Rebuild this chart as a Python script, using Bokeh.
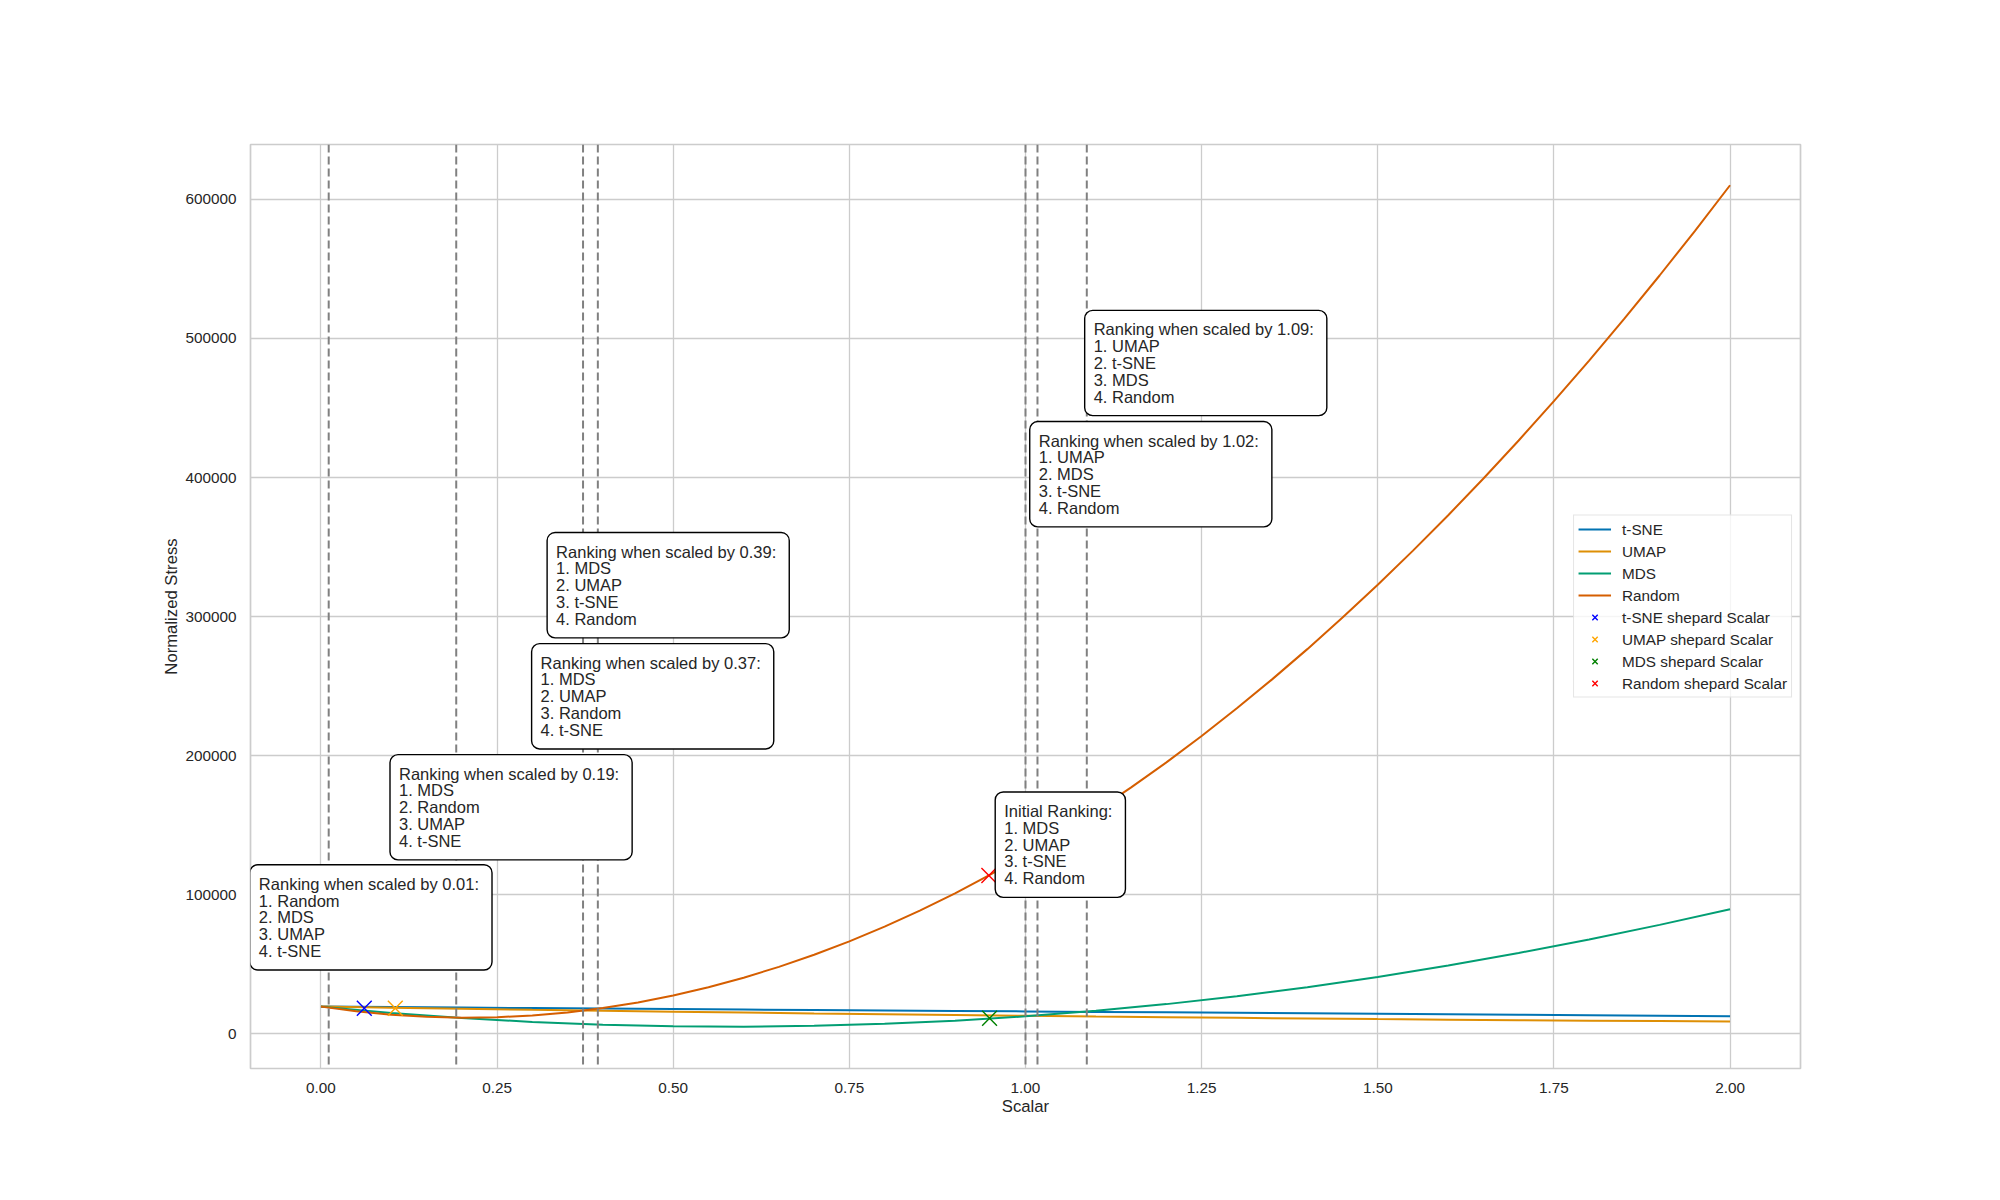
from bokeh.plotting import figure
from bokeh.models import (Span, Label, Legend, LegendItem, FixedTicker,
                          NumeralTickFormatter, Range1d)
from bokeh.embed import file_html
from bokeh.resources import INLINE

FONT = "Liberation Sans"
TXT = "#262626"

# ---------------- data ----------------
scalar = [0.0, 0.1, 0.2, 0.3, 0.4, 0.5, 0.6, 0.7, 0.8, 0.9, 1.0,
          1.1, 1.2, 1.3, 1.4, 1.5, 1.6, 1.7, 1.8, 1.9, 2.0]
tsne_stress = [19500, 19150, 18800, 18480, 18120, 17780, 17430, 17080, 16750, 16400, 16050,
               15700, 15370, 15020, 14670, 14330, 13980, 13640, 13290, 12950, 12600]
umap_stress = [19500, 18730, 17990, 17270, 16570, 15900, 15250, 14630, 14030, 13460, 12910,
               12390, 11890, 11420, 10970, 10540, 10140, 9760, 9410, 9080, 8780]
mds_stress = [19500, 14980, 11300, 8480, 6500, 5380, 5100, 5680, 7100, 9380, 12500,
              16480, 21300, 26980, 33500, 40880, 49100, 58100, 67800, 78300, 89500]

scalar_fine = [0.0, 0.05, 0.1, 0.15, 0.2, 0.25, 0.3, 0.35, 0.4, 0.45, 0.5,
               0.55, 0.6, 0.65, 0.7, 0.75, 0.8, 0.85, 0.9, 0.95, 1.0,
               1.05, 1.1, 1.15, 1.2, 1.25, 1.3, 1.35, 1.4, 1.45, 1.5,
               1.55, 1.6, 1.65, 1.7, 1.75, 1.8, 1.85, 1.9, 1.95, 2.0]
random_stress = [19500, 16110, 13660, 12130, 11540, 11880, 13150, 15350, 18480, 22540, 27530,
                 33450, 40310, 48090, 56810, 66460, 77030, 88540, 100980, 114350, 128660,
                 143890, 160050, 177150, 195170, 214130, 234020, 254840, 276590, 299270, 322880,
                 347420, 372900, 399300, 426640, 454900, 484100, 514230, 545290, 577280, 610200]

series_names = ["t-SNE", "UMAP", "MDS", "Random"]
series_colors = ["#0173b2", "#de8f05", "#029e73", "#d55e00"]

shepard_names = ["t-SNE shepard Scalar", "UMAP shepard Scalar",
                 "MDS shepard Scalar", "Random shepard Scalar"]
shepard_x = [0.0615, 0.1055, 0.949, 0.948]
shepard_y = [18350, 18350, 11150, 113800]
shepard_colors = ["blue", "orange", "green", "red"]

ranking_scalars = [0.011, 0.192, 0.372, 0.393, 1.0, 1.017, 1.087]

note_texts = [
    "Ranking when scaled by 0.01:\n1. Random\n2. MDS\n3. UMAP\n4. t-SNE",
    "Ranking when scaled by 0.19:\n1. MDS\n2. Random\n3. UMAP\n4. t-SNE",
    "Ranking when scaled by 0.37:\n1. MDS\n2. UMAP\n3. Random\n4. t-SNE",
    "Ranking when scaled by 0.39:\n1. MDS\n2. UMAP\n3. t-SNE\n4. Random",
    "Initial Ranking:\n1. MDS\n2. UMAP\n3. t-SNE\n4. Random",
    "Ranking when scaled by 1.02:\n1. UMAP\n2. MDS\n3. t-SNE\n4. Random",
    "Ranking when scaled by 1.09:\n1. UMAP\n2. t-SNE\n3. MDS\n4. Random",
]
note_x = [-0.1009, 0.098, 0.299, 0.321, 0.957, 1.006, 1.084]
note_y = [45800, 125000, 204800, 284700, 98100, 364500, 444500]

x_ticks = [0.0, 0.25, 0.5, 0.75, 1.0, 1.25, 1.5, 1.75, 2.0]
y_ticks = [0, 100000, 200000, 300000, 400000, 500000, 600000]

# ---------------- figure ----------------
p = figure(width=2000, height=1200, output_backend="svg", toolbar_location=None,
           x_range=Range1d(-0.1, 2.1), y_range=Range1d(-25000, 639500),
           min_border_left=250, min_border_right=200,
           min_border_top=144, min_border_bottom=132,
           background_fill_color="white", border_fill_color="white")

p.outline_line_color = "#cccccc"
p.outline_line_width = 1.7

p.xaxis.ticker = FixedTicker(ticks=x_ticks)
p.yaxis.ticker = FixedTicker(ticks=y_ticks)
p.xgrid.ticker = FixedTicker(ticks=x_ticks)
p.ygrid.ticker = FixedTicker(ticks=y_ticks)
p.xaxis.formatter = NumeralTickFormatter(format="0.00")
p.yaxis.formatter = NumeralTickFormatter(format="0")
p.grid.grid_line_color = "#cccccc"
p.grid.grid_line_width = 1.3

for ax in (p.xaxis[0], p.yaxis[0]):
    ax.axis_line_color = None
    ax.major_tick_line_color = None
    ax.minor_tick_line_color = None
    ax.major_tick_out = 0
    ax.major_tick_in = 0
    ax.major_label_text_font = FONT
    ax.major_label_text_font_size = "15.3px"
    ax.major_label_text_color = TXT
    ax.axis_label_text_font = FONT
    ax.axis_label_text_font_size = "16.7px"
    ax.axis_label_text_font_style = "normal"
    ax.axis_label_text_color = TXT

p.xaxis.axis_label = "Scalar"
p.yaxis.axis_label = "Normalized Stress"
p.xaxis.major_label_standoff = 14
p.yaxis.major_label_standoff = 14
p.xaxis.axis_label_standoff = 1
p.yaxis.axis_label_standoff = 1

# curves
line_renderers = []
curve_x = [scalar, scalar, scalar, scalar_fine]
curve_y = [tsne_stress, umap_stress, mds_stress, random_stress]
for xs, ys, c in zip(curve_x, curve_y, series_colors):
    r = p.line(xs, ys, line_color=c, line_width=2)
    line_renderers.append(r)

# shepard markers
marker_renderers = []
for i in range(len(shepard_names)):
    r = p.scatter([shepard_x[i]], [shepard_y[i]], marker="x", size=21,
                  line_color=shepard_colors[i], line_width=1.4)
    marker_renderers.append(r)

# vertical ranking lines
for s in ranking_scalars:
    p.add_layout(Span(location=s, dimension="height", line_color="gray",
                      line_width=2, line_dash="8 4"))

# annotation boxes
for t, x, y in zip(note_texts, note_x, note_y):
    p.add_layout(Label(x=x, y=y, text=t, anchor="bottom_left", text_align="left",
                       text_font=FONT, text_font_size="16.5px", text_color=TXT,
                       text_line_height=0.935,
                       background_fill_color="white", background_fill_alpha=1.0,
                       border_line_color="black", border_line_width=1.4,
                       padding=dict(left=9, right=13, top=10, bottom=10),
                       border_radius=8))

# legend
items = [LegendItem(label=n, renderers=[r]) for n, r in zip(series_names, line_renderers)]
items += [LegendItem(label=n, renderers=[r]) for n, r in zip(shepard_names, marker_renderers)]
legend = Legend(items=items, location="right", margin=8, padding=4, spacing=3,
                glyph_width=33, glyph_height=19, label_height=19, label_standoff=11,
                label_text_font=FONT, label_text_font_size="15.3px", label_text_color=TXT,
                border_line_color="#cccccc", border_line_width=1,
                background_fill_color="white", background_fill_alpha=0.8)
p.add_layout(legend)

open("out.html", "w").write(file_html(p, INLINE))
